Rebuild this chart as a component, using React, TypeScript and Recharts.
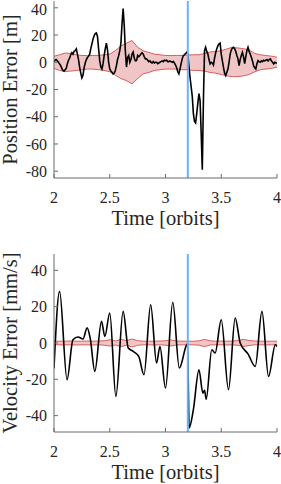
import React from "react";
import { ComposedChart, Line, Area, XAxis, YAxis, ReferenceLine } from "recharts";

const FONT = "Liberation Serif, Times New Roman, serif";
const TEXT = "#262626";
const FRAME = "#6b6b6b";

const xTicks = [2, 2.5, 3, 3.5, 4];
const posTicks = [-80, -60, -40, -20, 0, 20, 40];
const velTicks = [-40, -20, 0, 20, 40];
const maneuverTime = 3.2;

// position error [m], one sample every 0.01 orbits starting at t = 2
const tStart = 2;
const posStep = 0.01;
const posError = [
  0.5, 1.5, 2, 1, 0, -1.2, -2.5, -4.5, -6, -6.5,
  -5.5, -4.5, -1, 1.5, 3, 5.5, 7, 6, 8, 8.5,
  9.8, 6, 2, -3.7, -8, -11.5, -9.5, -4, -0.5, 2,
  3.5, 4.5, 6, 10, 13.5, 17, 19.5, 21, 21.5, 19,
  10, 1.2, -3.5, -4.9, -1, 5, 10, 14, 9, 0,
  -4.9, -6.5, -7.3, -8.5, -8, -6, -2.5, 2, 4.9, 8.5,
  14, 28, 39.5, 27, 8, -3.5, 3.5, 5, 0, 2,
  6, 7.5, 3, 1, 1.2, 5, 4, 4.9, 6, 7,
  6, 4, 2.5, 2.5, 1.5, 0.5, 1, 0, -0.5, 0.5,
  -0.5, 0, 0, -1, -0.5, 0, 0.5, 1, 0.5, 1.5,
  1.2, 1.5, 0.5, 0.5, 1, 0.5, 0, 0.5, -0.5, -2,
  -4, -7, -8.5, -5, -1, 2.5, 4.9, 5.5, 6.5, 7.3,
  6, -3, -11, -18, -25, -37.7, -43.5, -44.6, -37.7, -30,
  -23, -28, -52, -79, -28, 8.5, 11, 8, 6, 2,
  -1.2, 0, -0.5, -2, 3, 7, 10, 12, 13.5, 14,
  6, 1, -3.7, -8, -9.8, -7.3, -5, 0, 6, 9,
  10.5, 11, 10, 8, 5, 2.5, -2.5, 2, 4.9, 7.3,
  4, -1, 4, 8.5, 11, 8, 6, 3.7, 1, -2.5,
  -4, -4.9, -1, 1.2, 0.5, 0, 1, 0.5, 1.5, 1,
  1.5, 2, 1, 2, 2.5, 1, 0, -1.2, 0, -0.5,
  -0.5,
];

// error envelopes, one sample every 0.05 orbits
const bandStep = 0.05;
const posUpper = [
  4.5, 5.5, 6.8, 6.5, 5.5, 5, 4.9, 5, 5, 5.5, 6, 8.5, 12, 14, 16, 11, 8.5, 7.3, 6, 5.5,
  5, 4.9, 5, 5, 5.3, 5.5, 5.5, 6.5, 7.5, 8, 8.5, 9.8, 11, 10.5, 10, 9, 6.5, 5.5, 5, 4.5, 3.7,
];
const posLower = [
  -4.5, -6, -6.8, -6.5, -6, -5.5, -5, -5, -5.5, -6, -7, -9.5, -12, -13.5, -15.8, -12, -8.5, -7.5, -6, -5.5,
  -5, -5, -5, -5.5, -5.5, -6, -6, -6.5, -7.5, -8, -9, -10, -10.6, -10.5, -10, -9, -7, -5.5, -5, -4.5, -3.7,
];

// velocity error [mm/s], turning points
const velTimes = [
  2.0, 2.05, 2.117, 2.17, 2.216, 2.26, 2.297, 2.325, 2.366, 2.426, 2.456, 2.5, 2.555, 2.62, 2.666,
  2.71, 2.76, 2.807, 2.867, 2.92, 2.95, 3.0, 3.065, 3.124, 3.19, 3.198, 3.212, 3.25, 3.3, 3.335,
  3.35, 3.365, 3.415, 3.445, 3.5, 3.565, 3.625, 3.67, 3.74, 3.805, 3.865, 3.924, 3.985, 4.0,
];
const velError = [
  -14, 28.4, -20.2, 1.8, 3.3, 2.2, 8.3, 2.5, -15.6, 11.9, 3.6, 16.5, -29.4, 17.4, -2.8,
  -4.6, -7.4, -17.5, 21.1, -11, -1.9, -24.8, 22.4, -13.8, -1, -0.5, -46.8, -36.7, -14.7, -27.6,
  -26, -31, -3.7, -5.5, 12.8, -25.7, 13.8, 0, -6, -12.9, 17.4, -18.4, -1, -2,
];
const velUpper = [
  1, 1, 1, 1.1, 1, 1, 1.1, 1, 1.1, 1.2, 1.8, 1.1, 2, 1.3, 2.2, 1.3, 1, 1, 1, 1.1,
  1.2, 1.7, 1.1, 1, 1, 1, 1.2, 2, 1.2, 1, 1.1, 1, 1.1, 1.3, 2, 1.4, 1.1, 1, 1, 1, 1,
];
const velLower = [
  -0.9, -1, -1, -1, -1.1, -1, -1, -1.1, -1, -1.2, -1.7, -1.1, -2, -1.2, -2.2, -1.3, -1, -1, -1.1, -1,
  -1.2, -1.6, -1.1, -1, -1, -1, -1.2, -2, -1.1, -1, -1, -1.1, -1, -1.3, -1.9, -1.4, -1, -1, -1, -1, -1,
];

const posLine = posError.map((v, i) => ({ t: tStart + i * posStep, v }));
const posBand = posUpper.map((u, i) => ({ t: tStart + i * bandStep, range: [posLower[i], u] }));
const velLine = velTimes.map((t, i) => ({ t, v: velError[i] }));
const velBand = velUpper.map((u, i) => ({ t: tStart + i * bandStep, range: [velLower[i], u] }));

const XTick = (p: any) => (
  <text x={p.x} y={p.y} dy="0.71em" textAnchor="middle" fontSize={16} fontFamily={FONT} fill={TEXT}>
    {p.payload.value}
  </text>
);

const YTick = (p: any) => (
  <text x={p.x} y={p.y} dy="0.355em" textAnchor="end" fontSize={16} fontFamily={FONT} fill={TEXT}>
    {p.payload.value}
  </text>
);

function Panel({ top, height, marginTop, axisHeight, domain, yTicks, yLabel, band, line, curve }: any) {
  const cy = (marginTop + height - axisHeight) / 2;
  return (
    <div style={{ position: "absolute", left: 0, top }}>
      <ComposedChart width={281} height={height} margin={{ top: marginTop, right: 4, bottom: 0, left: 0 }}>
        <XAxis
          type="number"
          dataKey="t"
          domain={[2, 4]}
          ticks={xTicks}
          allowDataOverflow
          height={axisHeight}
          tickSize={-4}
          tickMargin={18}
          stroke={FRAME}
          tick={<XTick />}
          label={{
            value: "Time [orbits]",
            position: "insideBottom",
            offset: axisHeight - 47,
            fontSize: 20.5,
            fontFamily: FONT,
            fill: TEXT,
          }}
        />
        <XAxis
          xAxisId="top"
          orientation="top"
          type="number"
          domain={[2, 4]}
          ticks={xTicks}
          allowDataOverflow
          height={0}
          tickSize={-4}
          tickFormatter={() => ""}
          stroke={FRAME}
        />
        <YAxis
          type="number"
          domain={domain}
          ticks={yTicks}
          allowDataOverflow
          width={54}
          tickSize={-4}
          tickMargin={11}
          stroke={FRAME}
          tick={<YTick />}
          label={() => (
            <text
              x={17}
              y={cy}
              transform={`rotate(-90 17 ${cy})`}
              textAnchor="middle"
              fontSize={20.5}
              fontFamily={FONT}
              fill={TEXT}
            >
              {yLabel}
            </text>
          )}
        />
        <YAxis
          yAxisId="right"
          orientation="right"
          type="number"
          domain={domain}
          ticks={yTicks}
          allowDataOverflow
          width={0}
          tickSize={-4}
          tickFormatter={() => ""}
          stroke={FRAME}
        />
        <Area
          data={band}
          dataKey="range"
          type="linear"
          stroke="#d23c3c"
          strokeWidth={0.8}
          fill="#efc5c5"
          fillOpacity={1}
          isAnimationActive={false}
        />
        <Line
          data={line}
          dataKey="v"
          type={curve}
          stroke="#000"
          strokeWidth={1.6}
          dot={false}
          isAnimationActive={false}
        />
        <ReferenceLine x={maneuverTime} stroke="#6db3f2" strokeWidth={2} />
      </ComposedChart>
    </div>
  );
}

export default function App() {
  return (
    <div style={{ position: "absolute", left: 0, top: 0, width: 281, height: 484, background: "#fff" }}>
      <Panel
        top={0}
        height={240}
        marginTop={1}
        axisHeight={62}
        domain={[-85, 45]}
        yTicks={posTicks}
        yLabel="Position Error [m]"
        band={posBand}
        line={posLine}
        curve="linear"
      />
      <Panel
        top={240}
        height={244}
        marginTop={14}
        axisHeight={52}
        domain={[-49, 49]}
        yTicks={velTicks}
        yLabel="Velocity Error [mm/s]"
        band={velBand}
        line={velLine}
        curve="monotone"
      />
    </div>
  );
}
